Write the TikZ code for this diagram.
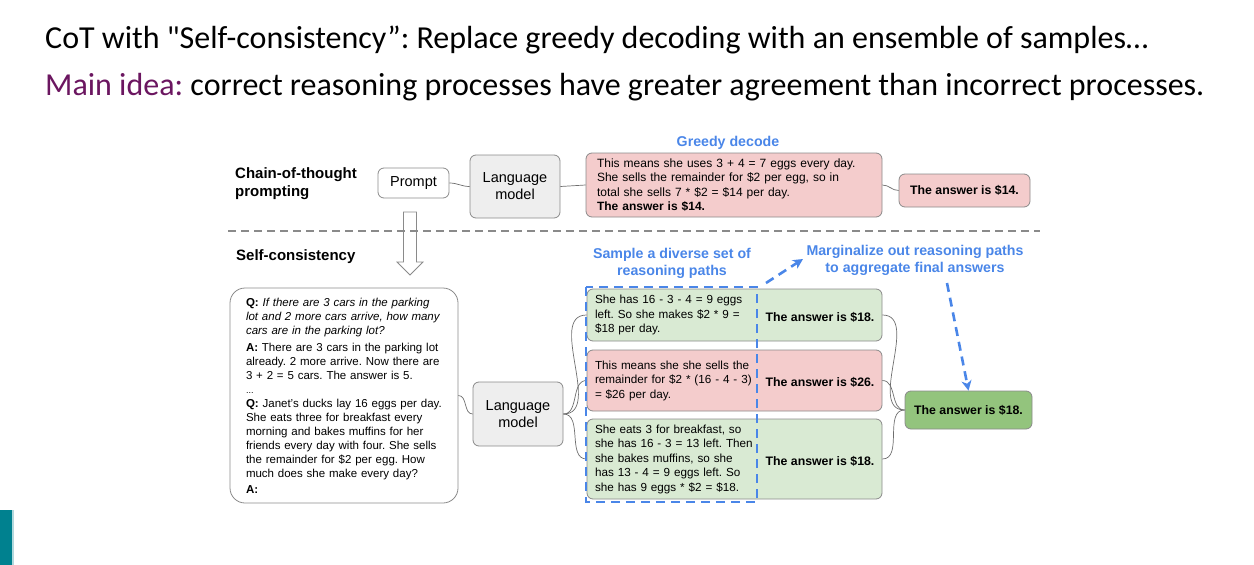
\documentclass[tikz,border=0pt]{standalone}
\usepackage{fontspec}
\setmainfont{Carlito}
\newfontfamily\figfont{Liberation Sans}
\usetikzlibrary{arrows.meta}
\definecolor{pinkbox}{HTML}{F4CCCC}
\definecolor{greenbox}{HTML}{D9EAD3}
\definecolor{greenans}{HTML}{93C47D}
\definecolor{graybox}{HTML}{EEEEEE}
\definecolor{gblue}{HTML}{4A86E8}
\definecolor{ideapurple}{HTML}{6B1660}
\definecolor{barteal}{HTML}{00818F}
\definecolor{edgegray}{HTML}{8A8A8A}
\definecolor{linkgray}{HTML}{6E6E6E}
\frenchspacing

\begin{document}
\begin{tikzpicture}[x=1pt,y=-1pt,
  box/.style={draw=edgegray,line width=0.8pt,rounded corners=6pt,inner sep=0pt,
              font=\figfont\fontsize{11.7}{14.5}\selectfont},
  textbox/.style={box,align=left,inner xsep=8pt},
  lmbox/.style={box,fill=graybox,align=center,minimum width=90pt,minimum height=63pt,
                font=\figfont\fontsize{14.5}{17}\selectfont},
  answer/.style={font=\figfont\bfseries\fontsize{12.3}{14}\selectfont},
  bluelabel/.style={text=gblue,align=center,font=\figfont\bfseries\fontsize{14.2}{17}\selectfont},
  sidelabel/.style={anchor=west,align=left,inner sep=0pt,font=\figfont\bfseries\fontsize{15}{18}\selectfont},
  link/.style={linkgray,line width=0.7pt},
  bluedash/.style={gblue,line width=2.6pt,dash pattern=on 9pt off 6pt},
  bluearrow/.style={gblue,line width=2.6pt,dash pattern=on 9pt off 6pt,
                    -{Stealth[length=10pt,width=10pt,inset=3pt]}}]
 \useasboundingbox (0,0) rectangle (1254,565);
 % slide title
 \node[anchor=base west,inner sep=0pt,font=\fontsize{32}{38}\selectfont] (title) at (45,48)
   {CoT with \textquotedbl Self-consistency”: Replace greedy decoding with an ensemble of samples…};
 \node[anchor=base west,inner sep=0pt,font=\fontsize{32}{38}\selectfont] (idea) at (45,95)
   {\textcolor{ideapurple}{Main idea:} correct reasoning processes have greater agreement than incorrect processes.};
 \fill[barteal] (0,510) rectangle (12,565);
 \fill[barteal!30] (12,510) rectangle (13.5,565);

 % chain-of-thought row
 \node[sidelabel] (cotlabel) at (235,184) {Chain-of-thought\\prompting};
 \node[box,minimum width=71pt,minimum height=30pt,font=\figfont\fontsize{14.5}{17}\selectfont]
   (prompt) at (413.5,183) {Prompt};
 \node[lmbox] (lmtop) at (515,186.5) {Language\\model};
 \node[textbox,fill=pinkbox,text width=274pt,minimum height=64pt,inner xsep=11pt,
       font=\figfont\fontsize{12}{14.5}\selectfont] (greedy) at (734,185)
   {This means she uses 3 + 4 = 7 eggs every day.\\
    She sells the remainder for \$2 per egg, so in\\
    total she sells 7 * \$2 = \$14 per day.\\
    \textbf{The answer is \$14.}};
 \node[bluelabel] (greedylabel) at (728,143) {Greedy decode};
 \node[box,fill=pinkbox,minimum width=131pt,minimum height=33pt,answer] (ans14) at (964.5,190.5)
   {The answer is \$14.};
 \draw[link] (prompt.east) to[out=0,in=180] (lmtop.west);
 \draw[link] (lmtop.east) -- (greedy.west);
 \draw[link] (greedy.east) to[out=0,in=180] (ans14.west);

 % separator and hollow arrow
 \draw[edgegray,fill=white,line width=0.8pt] (403.5,212) -- (416.5,212) -- (416.5,262) -- (423,262)
   -- (410,275) -- (397,262) -- (403.5,262) -- cycle;
 \draw[edgegray,line width=1.3pt,dash pattern=on 8pt off 5pt] (228,231) -- (1040,231);

 % self-consistency row
 \node[sidelabel] (sclabel) at (236,257) {Self-consistency};
 \node[box,rounded corners=15pt,align=left,text width=196pt,minimum height=215pt,inner xsep=16pt,
       font=\figfont\fontsize{11.5}{14}\selectfont] (question) at (344,395.5)
   {\textbf{Q:} \textit{If there are 3 cars in the parking}\\
    \textit{lot and 2 more cars arrive, how many}\\
    \textit{cars are in the parking lot?}\\[3pt]
    \textbf{A:} There are 3 cars in the parking lot\\
    already. 2 more arrive. Now there are\\
    3 + 2 = 5 cars. The answer is 5.\\
    {\fontsize{9}{10}\selectfont ...}\\
    \textbf{Q:} Janet’s ducks lay 16 eggs per day.\\
    She eats three for breakfast every\\
    morning and bakes muffins for her\\
    friends every day with four. She sells\\
    the remainder for \$2 per egg. How\\
    much does she make every day?\\[2pt]
    \textbf{A:}};
 \node[lmbox,minimum height=64pt] (lmbot) at (518,414) {Language\\model};
 \node[textbox,fill=greenbox,text width=279pt,minimum height=52pt] (path1) at (734.5,315)
   {She has 16 - 3 - 4 = 9 eggs\\left. So she makes \$2 * 9 =\\\$18 per day.};
 \node[textbox,fill=pinkbox,text width=279pt,minimum height=61pt] (path2) at (734.5,380.5)
   {This means she she sells the\\remainder for \$2 * (16 - 4 - 3)\\= \$26 per day.};
 \node[textbox,fill=greenbox,text width=279pt,minimum height=80pt] (path3) at (734.5,459)
   {She eats 3 for breakfast, so\\she has 16 - 3 = 13 left. Then\\she bakes muffins, so she\\
    has 13 - 4 = 9 eggs left. So\\she has 9 eggs * \$2 = \$18.};
 \node[answer] (ans1) at (820,317) {The answer is \$18.};
 \node[answer] (ans2) at (820,382) {The answer is \$26.};
 \node[answer] (ans3) at (820,461) {The answer is \$18.};
 \node[box,fill=greenans,minimum width=127pt,minimum height=38pt,answer] (final) at (968.5,410)
   {The answer is \$18.};
 \draw[link] (question.east) to[out=0,in=180] (lmbot.west);
 \foreach \p in {path1,path2,path3} {
   \draw[link] (lmbot.east) to[out=0,in=180] (\p.west);
   \draw[link] (\p.east) to[out=0,in=180] (final.west);
 }

 % sampling and marginalizing
 \draw[bluedash] (586,287) rectangle (757,502);
 \node[bluelabel] (samplelabel) at (672,263) {Sample a diverse set of\\reasoning paths};
 \node[bluelabel] (marglabel) at (915,260) {Marginalize out reasoning paths\\to aggregate final answers};
 \coordinate (sampleend) at (766,283);
 \coordinate (margtip) at (803,259);
 \coordinate (margstart) at (947,283);
 \draw[bluearrow] (sampleend) -- (margtip);
 \draw[bluearrow] (margstart) -- (final.north);
\end{tikzpicture}
\end{document}
